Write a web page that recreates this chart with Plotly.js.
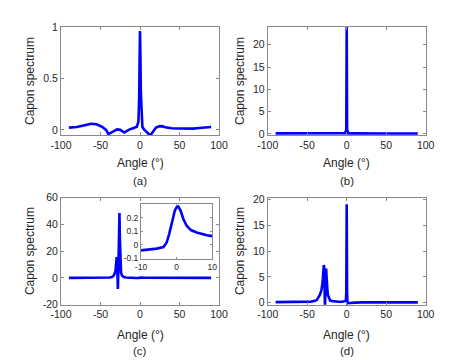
<!DOCTYPE html>
<html>
<head>
<meta charset="utf-8">
<script src="https://cdn.plot.ly/plotly-3.0.1.min.js"></script>
<style>html,body{margin:0;padding:0;background:#fff;}#chart{width:471px;height:360px;}</style>
</head>
<body>
<div id="chart"></div>
<script>
// ---- Panel (a) ----
var angleA = [-90,-80,-70,-62,-55,-48,-43,-40,-37,-33,-29,-25,-22,-20,-17,-13,-8,-4,-2,-1,-0.5,0,0.5,1,2,3,5,8,11,13.5,16,20,24,27.5,32,40,50,60,67,75,82,90];
var specA  = [0.022,0.028,0.045,0.06,0.055,0.03,0.0,-0.04,-0.03,-0.01,0.004,0.0,-0.015,-0.026,-0.012,0.005,0.018,0.03,0.08,0.32,0.68,0.96,0.72,0.38,0.1,0.03,0.005,-0.02,-0.04,-0.05,-0.02,0.02,0.034,0.036,0.025,0.016,0.013,0.012,0.012,0.018,0.024,0.028];
// ---- Panel (b) ----
var angleB = [-90,-75,-60,-45,-35,-20,-10,-2,-0.5,0,0.5,2,10,20,35,50,70,90];
var specB  = [0.12,0.14,0.16,0.08,0.06,0.1,0.12,0.15,1.0,24.5,1.0,0.12,0.12,0.15,0.12,0.1,0.1,0.1];
// ---- Panel (c) ----
var angleC = [-90,-70,-50,-42,-38,-35,-33,-31,-30,-29.5,-29,-28.5,-28,-27.5,-27,-26.5,-26,-25.5,-25,-24,-23,-21,-18,-15,-10,-5,-2,0,0.5,2,5,10,30,60,90];
var specC  = [0,0,0.02,0.1,0.3,0.8,2,5,10,15.5,13,3,-8.2,4,20,36,48.5,30,12,4,2,0.8,0.3,0.1,-0.04,-0.03,0.03,0.24,0.28,0.2,0.1,0.06,0.02,0.01,0.0];
// ---- Panel (c) inset ----
var angleInset = [-10,-8,-5.6,-3.7,-2.8,-2.1,-1.5,-1.1,-0.5,0,0.46,1.1,1.9,2.8,4,5.6,7,8.5,10];
var specInset  = [-0.04,-0.035,-0.027,-0.015,0.018,0.08,0.15,0.19,0.255,0.278,0.284,0.254,0.19,0.142,0.11,0.092,0.08,0.072,0.065];
// ---- Panel (d) ----
var angleD = [-90,-70,-55,-45,-40,-38,-34,-32,-30.5,-29.5,-29,-28.5,-28,-27.5,-27,-26.5,-26,-25.5,-25,-24,-22,-21,-18,-15,-10,-5,-2,-1,-0.5,0,0.5,1,2,5,10,20,50,90];
var specD  = [0.1,0.1,0.12,0.2,0.35,0.5,1.5,2.4,4,6.5,7.3,6.8,3,-1.5,2,5,6.6,5,3,1.6,0.8,0.4,0.3,0.22,0.18,0.18,0.25,0.35,2,19.1,2,-0.15,-0.12,-0.05,0.0,0.05,0.05,0.05];

// ---- Tick labels ----
var xTickVals = [-100,-50,0,50,100];
var xTickText = ['-100','-50','0','50','100'];
var aTickVals = [0,0.5,1];
var aTickText = ['0','0.5','1'];
var bTickVals = [0,5,10,15,20];
var bTickText = ['0','5','10','15','20'];
var cTickVals = [-20,0,20,40,60];
var cTickText = ['-20','0','20','40','60'];
var dTickVals = [0,5,10,15,20];
var dTickText = ['0','5','10','15','20'];
var insetXVals = [-10,0,10];
var insetXText = ['-10','0','10'];
var insetYVals = [-0.1,0,0.1,0.2];
var insetYText = ['-0.1','0','0.1','0.2'];

var panelLabels = ['(a)','(b)','(c)','(d)'];
var yTitle = 'Capon spectrum';
var xTitle = 'Angle (\u00b0)';

var W = 471, H = 360;
var FONT = 'Liberation Sans, Arial, Helvetica, sans-serif';
var TXT = '#262626';
var LINE = '#8a8a8a';
var BLUE = '#0000ff';

function line(x, y, xa, ya) {
  return {x: x, y: y, xaxis: xa, yaxis: ya, type: 'scatter', mode: 'lines',
          line: {color: BLUE, width: 2.6}, hoverinfo: 'skip', showlegend: false, cliponaxis: true};
}

var data = [
  line(angleA, specA, 'x', 'y'),
  line(angleB, specB, 'x2', 'y2'),
  line(angleC, specC, 'x3', 'y3'),
  line(angleD, specD, 'x4', 'y4'),
  line(angleInset, specInset, 'x5', 'y5')
];

// pixel boxes: [left, right, top, bottom]
var boxA = [61, 219, 27, 135];
var boxB = [267.7, 425.7, 27, 135];
var boxC = [61, 219, 197.5, 304.7];
var boxD = [267.7, 425.7, 197.5, 304.7];
var boxI = [141, 212.3, 204.3, 258.5];

function xdom(b) { return [b[0] / W, b[1] / W]; }
function ydom(b) { return [1 - b[3] / H, 1 - b[2] / H]; }

function axis(dom, range, tv, tt, anchor, fs) {
  return {domain: dom, range: range, tickmode: 'array', tickvals: tv, ticktext: tt,
          ticks: 'inside', ticklen: 3, tickwidth: 1, tickcolor: LINE,
          showline: true, linecolor: LINE, linewidth: 1, mirror: 'ticks',
          showgrid: false, zeroline: false, anchor: anchor, fixedrange: true,
          tickfont: {family: FONT, size: fs || 10.5, color: TXT}};
}

var layout = {
  width: W, height: H,
  margin: {l: 0, r: 0, t: 0, b: 0},
  paper_bgcolor: '#ffffff', plot_bgcolor: '#ffffff',
  showlegend: false,
  xaxis:  axis(xdom(boxA), [-100, 100], xTickVals, xTickText, 'y'),
  yaxis:  axis(ydom(boxA), [-0.05, 1.0], aTickVals, aTickText, 'x'),
  xaxis2: axis(xdom(boxB), [-100, 100], xTickVals, xTickText, 'y2'),
  yaxis2: axis(ydom(boxB), [-0.25, 24], bTickVals, bTickText, 'x2'),
  xaxis3: axis(xdom(boxC), [-100, 100], xTickVals, xTickText, 'y3'),
  yaxis3: axis(ydom(boxC), [-20, 60], cTickVals, cTickText, 'x3'),
  xaxis4: axis(xdom(boxD), [-100, 100], xTickVals, xTickText, 'y4'),
  yaxis4: axis(ydom(boxD), [-0.4, 20.4], dTickVals, dTickText, 'x4'),
  xaxis5: axis(xdom(boxI), [-10, 10], insetXVals, insetXText, 'y5', 8.5),
  yaxis5: axis(ydom(boxI), [-0.1, 0.3], insetYVals, insetYText, 'x5', 8.5),
  annotations: []
};
layout.xaxis5.ticklen = 2;
layout.yaxis5.ticklen = 2;

var boxes = [boxA, boxB, boxC, boxD];
var ytLabelX = [30, 240, 30, 240];
var xtLabelY = [163.5, 163.5, 334.5, 334.5];
var panelY = [180.5, 180.5, 351, 351];
boxes.forEach(function (b, i) {
  var cx = (b[0] + b[1]) / 2, cy = (b[2] + b[3]) / 2;
  layout.annotations.push({xref: 'paper', yref: 'paper', x: ytLabelX[i] / W, y: 1 - cy / H,
    text: yTitle, showarrow: false, textangle: -90, xanchor: 'center', yanchor: 'middle',
    font: {family: FONT, size: 12, color: TXT}});
  layout.annotations.push({xref: 'paper', yref: 'paper', x: cx / W, y: 1 - xtLabelY[i] / H,
    text: xTitle, showarrow: false, xanchor: 'center', yanchor: 'middle',
    font: {family: FONT, size: 12, color: TXT}});
  layout.annotations.push({xref: 'paper', yref: 'paper', x: cx / W, y: 1 - panelY[i] / H,
    text: panelLabels[i], showarrow: false, xanchor: 'center', yanchor: 'middle',
    font: {family: FONT, size: 11.5, color: TXT}});
});

Plotly.newPlot('chart', data, layout, {staticPlot: true, displayModeBar: false});
</script>
</body>
</html>
